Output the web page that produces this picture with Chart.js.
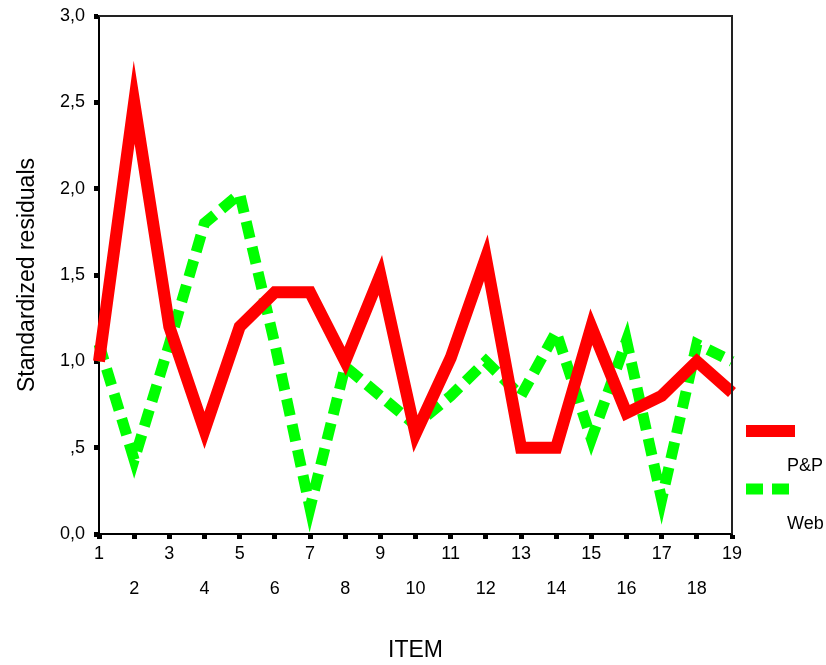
<!DOCTYPE html>
<html>
<head>
<meta charset="utf-8">
<script src="https://cdn.jsdelivr.net/npm/chart.js@4"></script>
<style>
  html, body { margin: 0; padding: 0; background: #fff; }
  #wrap { width: 826px; height: 665px; }
</style>
</head>
<body>
<div id="wrap"><canvas id="residualChart" width="826" height="665"></canvas></div>
<script>
const items = ['1', '2', '3', '4', '5', '6', '7', '8', '9', '10', '11', '12', '13', '14', '15', '16', '17', '18', '19'];
const pnpValues = [1.0, 2.5, 1.2, 0.6, 1.2, 1.4, 1.4, 1.0, 1.5, 0.58, 1.02, 1.6, 0.5, 0.5, 1.2, 0.7, 0.8, 1.0, 0.82];
const webValues = [1.1, 0.43, 1.1, 1.8, 1.97, 1.1, 0.15, 0.97, 0.8, 0.63, 0.8, 1.0, 0.8, 1.17, 0.55, 1.12, 0.2, 1.1, 1.0];
const yTickLabels = ['0,0', ',5', '1,0', '1,5', '2,0', '2,5', '3,0'];

const fontFamily = '"Liberation Sans", Arial, sans-serif';

// top and right frame of the plot area
const frame = {
    id: 'frame',
    afterDraw(chart) {
        const { ctx, chartArea: a } = chart;
        ctx.save();
        ctx.strokeStyle = '#222';
        ctx.lineWidth = 2;
        ctx.beginPath();
        ctx.moveTo(a.left, a.top);
        ctx.lineTo(a.right, a.top);
        ctx.lineTo(a.right, a.bottom);
        ctx.stroke();
        ctx.restore();
    }
};

// legend: sample line, then its label underneath
const sideLegend = {
    id: 'sideLegend',
    afterDraw(chart) {
        const { ctx } = chart;
        ctx.save();
        ctx.font = '18px ' + fontFamily;
        ctx.textBaseline = 'middle';
        ctx.fillStyle = '#000';
        chart.data.datasets.forEach((ds, i) => {
            const y = 431 + i * 58;
            ctx.strokeStyle = ds.borderColor;
            ctx.lineWidth = ds.borderWidth;
            ctx.setLineDash(ds.borderDash || []);
            ctx.beginPath();
            ctx.moveTo(746, y);
            ctx.lineTo(795, y);
            ctx.stroke();
            ctx.setLineDash([]);
            ctx.fillText(ds.label, 787, y + 35);
        });
        ctx.restore();
    }
};

new Chart(document.getElementById('residualChart'), {
    type: 'line',
    data: {
        labels: items,
        datasets: [
            {
                label: 'P&P',
                data: pnpValues,
                borderColor: '#ff0000',
                borderWidth: 12,
                borderJoinStyle: 'miter',
                borderCapStyle: 'butt',
                pointRadius: 0,
                tension: 0,
                fill: false
            },
            {
                label: 'Web',
                data: webValues,
                borderColor: '#00ff00',
                borderWidth: 11,
                borderDash: [17, 9],
                borderJoinStyle: 'miter',
                borderCapStyle: 'butt',
                pointRadius: 0,
                tension: 0,
                fill: false
            }
        ]
    },
    options: {
        responsive: false,
        animation: false,
        layout: { padding: { left: 0, top: 16, right: 94, bottom: 0 } },
        plugins: {
            legend: { display: false },
            tooltip: { enabled: false }
        },
        scales: {
            x: {
                offset: false,
                afterFit(scale) { scale.height = 131; scale.paddingRight = 0; scale.paddingLeft = 0; },
                border: { display: true, color: '#000', width: 2 },
                grid: { drawOnChartArea: false, drawTicks: true, tickLength: 5, tickWidth: 5, color: '#000' },
                ticks: {
                    autoSkip: false,
                    maxRotation: 0,
                    padding: -2,
                    color: '#000',
                    font: { family: fontFamily, size: 18, lineHeight: '35px' },
                    callback: (value, index) => index % 2 ? ['', items[index]] : items[index]
                },
                title: {
                    display: true,
                    text: 'ITEM',
                    color: '#000',
                    padding: { top: 0, bottom: 1 },
                    font: { family: fontFamily, size: 23 }
                }
            },
            y: {
                min: 0,
                max: 3,
                afterFit(scale) { scale.width = 99; scale.paddingTop = 0; scale.paddingBottom = 0; },
                border: { display: true, color: '#000', width: 2 },
                grid: { drawOnChartArea: false, drawTicks: true, tickLength: 5, tickWidth: 5, color: '#000' },
                ticks: {
                    stepSize: 0.5,
                    padding: 9,
                    color: '#000',
                    font: { family: fontFamily, size: 18 },
                    callback: (value, index) => yTickLabels[index]
                },
                title: {
                    display: true,
                    text: 'Standardized residuals',
                    color: '#000',
                    padding: { top: 14, bottom: 0 },
                    font: { family: fontFamily, size: 23 }
                }
            }
        }
    },
    plugins: [frame, sideLegend]
});
</script>
</body>
</html>
